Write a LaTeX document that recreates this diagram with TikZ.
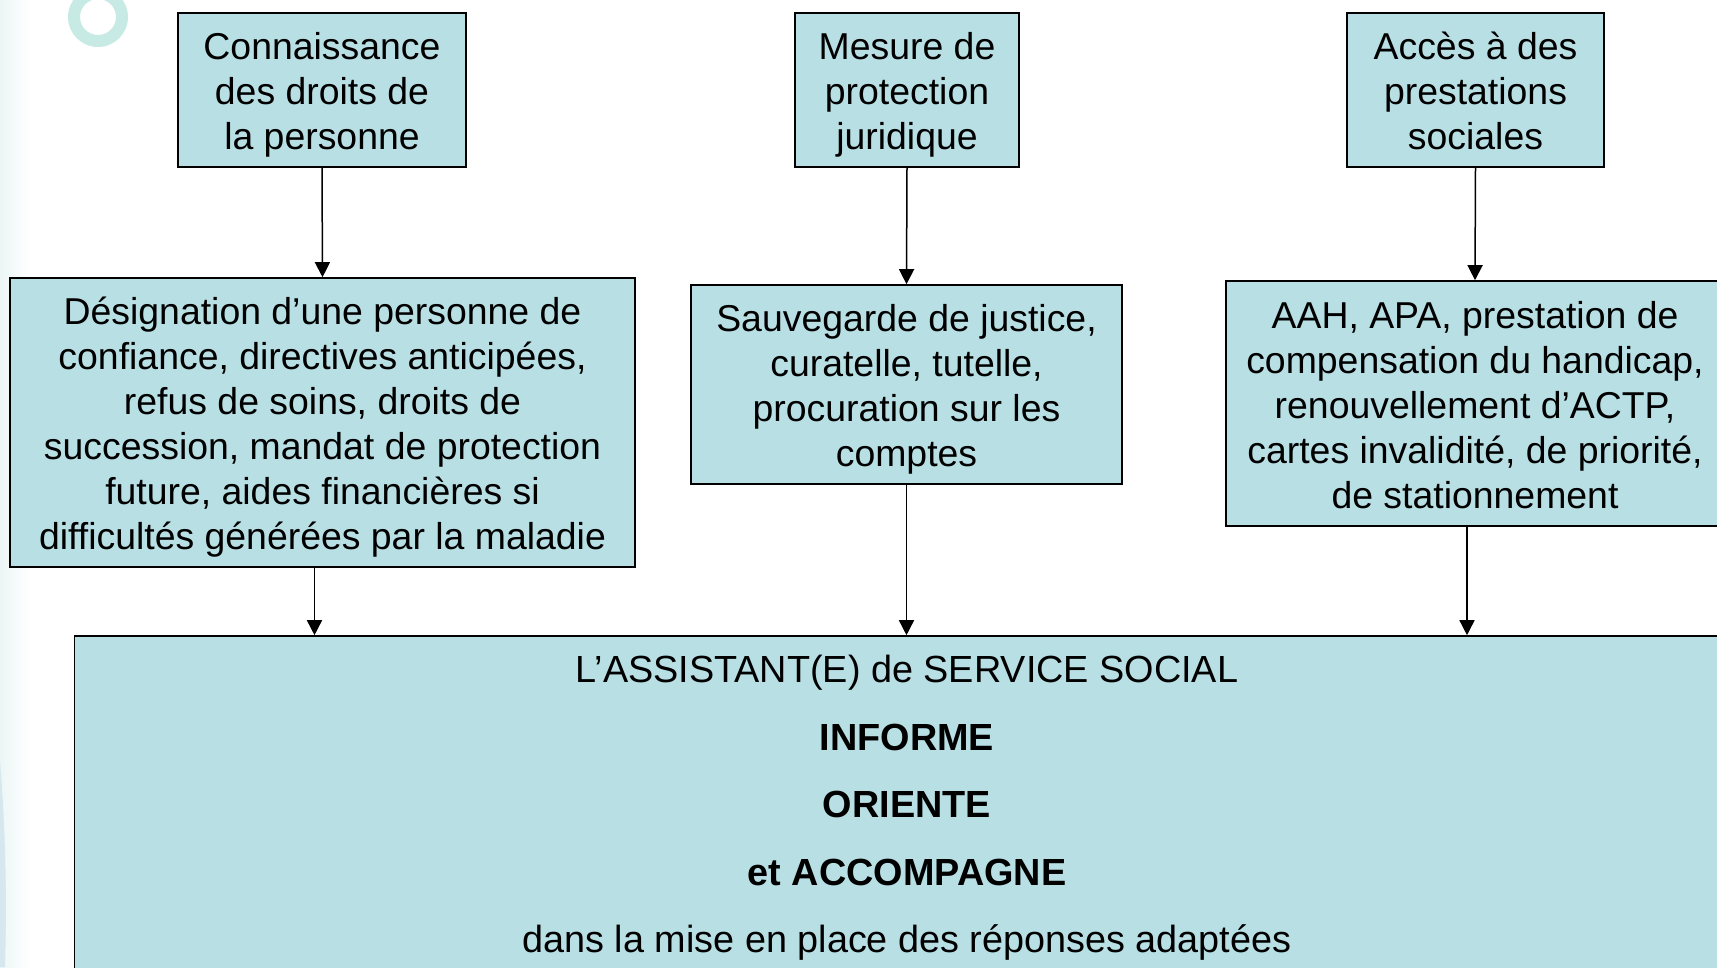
\documentclass[tikz,border=0pt]{standalone}
\usepackage{fontspec}
\setmainfont{Liberation Sans}
\usetikzlibrary{arrows.meta,calc}
\definecolor{boxfill}{RGB}{184,223,228}
\definecolor{ringcol}{RGB}{200,234,228}
\definecolor{edgefade}{RGB}{236,246,246}
\definecolor{edgeblue}{RGB}{205,226,236}
\newcommand{\myTop}{\rule{0pt}{36pt}}
\newcommand{\myBot}{\rule[-7pt]{0pt}{7pt}}
\tikzset{
  box/.style={draw=black, line width=1.6pt, fill=boxfill, align=center, inner sep=0pt,
    font=\fontsize{37.4}{45}\selectfont},
  arr/.style={line width=1.5pt, -{Triangle[width=15pt,length=15pt]}}
}
\begin{document}
\begin{tikzpicture}[x=1pt,y=-1pt]
\useasboundingbox (0,0) rectangle (1717,967);
\clip (0,0) rectangle (1717,967);
\fill[white] (0,0) rectangle (1717,967);
\shade[left color=edgefade, right color=white] (0,0) rectangle (30,967);
\fill[edgeblue, opacity=0.7] (0,760) .. controls (6,840) and (7,900) .. (5,967) -- (0,967) -- cycle;
\fill[ringcol, even odd rule] (98,17) circle (30) (98,17) circle (18);
% top boxes
\node[box, minimum width=288pt, minimum height=154pt] (t1) at (322,90) {\myTop Connaissance\\des droits de\\la personne\myBot};
\node[box, minimum width=224pt, minimum height=154pt] (t2) at (907,90) {\myTop Mesure de\\protection\\juridique\myBot};
\node[box, minimum width=257pt, minimum height=154pt] (t3) at (1475.5,90) {\myTop Accès à des\\prestations\\sociales\myBot};
% middle boxes
\node[box, minimum width=625pt, minimum height=289pt] (m1) at (322.5,422.5) {\myTop Désignation d’une personne de\\confiance, directives anticipées,\\refus de soins, droits de\\succession, mandat de protection\\future, aides financières si\\difficultés générées par la maladie\myBot};
\node[box, minimum width=431pt, minimum height=199pt] (m2) at (906.5,384.5) {\myTop Sauvegarde de justice,\\curatelle, tutelle,\\procuration sur les\\comptes\myBot};
\node[box, minimum width=498pt, minimum height=245pt] (m3) at (1475,403.5) {\myTop AAH, APA, prestation de\\compensation du handicap,\\renouvellement d’ACTP,\\cartes invalidité, de priorité,\\de stationnement\myBot};
% bottom box
\node[draw=black, line width=1.6pt, fill=boxfill, minimum width=1665pt, minimum height=370pt] (b) at (907,821) {};
\node[align=center, inner sep=0pt, font=\fontsize{37.8}{67.4}\selectfont] (btxt) at (907,808) {L’ASSISTANT(E) de SERVICE SOCIAL\\\textbf{INFORME}\\\textbf{ORIENTE}\\\textbf{et ACCOMPAGNE}\\dans la mise en place des réponses adaptées};
% connectors
\draw[arr] (t1.south) -- (m1.north);
\draw[arr] (t2.south) -- (m2.north);
\draw[arr] (t3.south) -- (m3.north);
\coordinate (c1) at ($(m1.south)+(-8,0)$);
\coordinate (c3) at ($(m3.south)+(-8,0)$);
\draw[arr] (c1) -- (c1 |- b.north);
\draw[arr] (m2.south) -- (m2.south |- b.north);
\draw[arr] (c3) -- (c3 |- b.north);
\end{tikzpicture}
\end{document}
